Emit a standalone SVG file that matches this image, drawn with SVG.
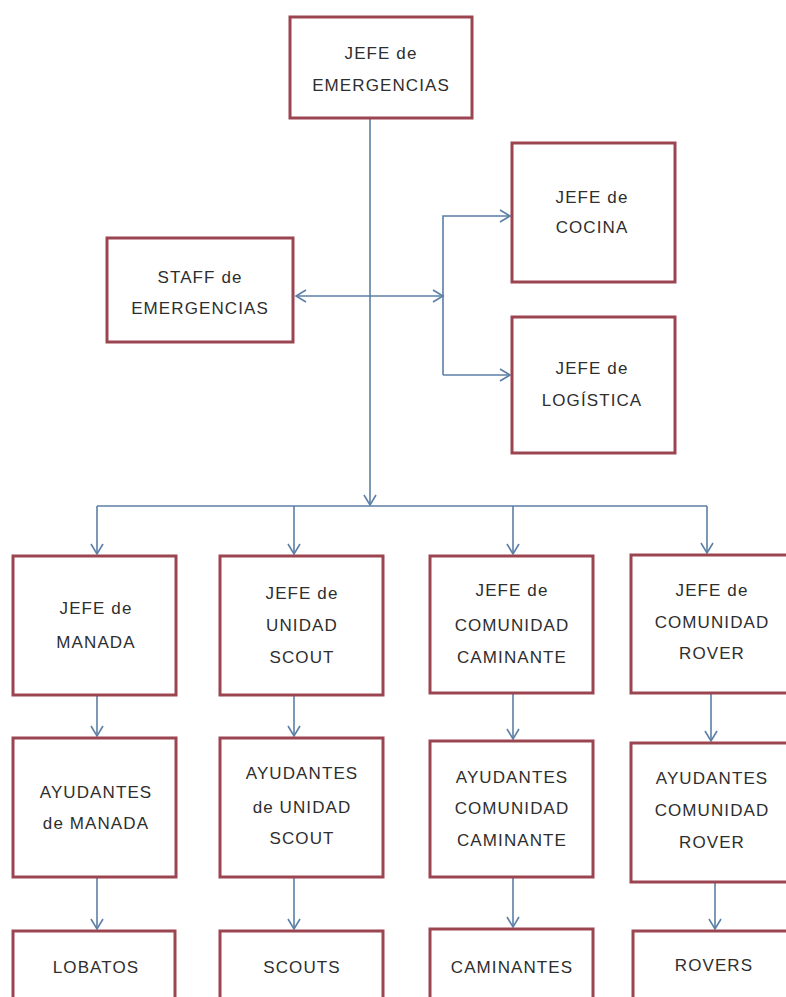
<svg xmlns="http://www.w3.org/2000/svg" width="786" height="997" viewBox="0 0 786 997">
<style>
.box{fill:#ffffff;stroke:#9b4550;stroke-width:3}
.lbl{font-family:"Liberation Sans",Arial,sans-serif;font-size:17px;fill:#2e2e2e;text-anchor:middle;letter-spacing:1.1px}
.con{fill:none;stroke:#5b7fa6;stroke-width:1.6}
</style>
<defs>
<marker id="ah" markerUnits="userSpaceOnUse" markerWidth="14" markerHeight="16" refX="11" refY="7" orient="auto-start-reverse" viewBox="0 0 14 14">
<path d="M1,1 L11,7 L1,13" fill="none" stroke="#5b7fa6" stroke-width="1.6"/>
</marker>
</defs>
<rect width="786" height="997" fill="#ffffff"/>
<g id="connectors">
<path class="con" d="M370,118 V505" marker-end="url(#ah)"/>
<path class="con" d="M97,506 H707"/>
<path class="con" d="M296,296 H443" marker-start="url(#ah)" marker-end="url(#ah)"/>
<path class="con" d="M443,375 V216 H510" marker-end="url(#ah)"/>
<path class="con" d="M443,375 H510" marker-end="url(#ah)"/>
<path class="con" d="M97,506 V554" marker-end="url(#ah)"/>
<path class="con" d="M294,506 V554" marker-end="url(#ah)"/>
<path class="con" d="M513,506 V554" marker-end="url(#ah)"/>
<path class="con" d="M707,506 V553" marker-end="url(#ah)"/>
<path class="con" d="M97,695 V736" marker-end="url(#ah)"/>
<path class="con" d="M294,695 V736" marker-end="url(#ah)"/>
<path class="con" d="M513,693 V739" marker-end="url(#ah)"/>
<path class="con" d="M711,693 V741" marker-end="url(#ah)"/>
<path class="con" d="M97,877 V929" marker-end="url(#ah)"/>
<path class="con" d="M294,877 V929" marker-end="url(#ah)"/>
<path class="con" d="M513,877 V927" marker-end="url(#ah)"/>
<path class="con" d="M715,882 V929" marker-end="url(#ah)"/>
</g>
<g id="jefe-emergencias"><rect class="box" x="290" y="17" width="182" height="101"/>
<text class="lbl" x="381" y="59">JEFE de</text><text class="lbl" x="381" y="91">EMERGENCIAS</text></g>
<g id="staff-emergencias"><rect class="box" x="107" y="238" width="186" height="104"/>
<text class="lbl" x="200" y="283">STAFF de</text><text class="lbl" x="200" y="314">EMERGENCIAS</text></g>
<g id="jefe-cocina"><rect class="box" x="512" y="143" width="163" height="139"/>
<text class="lbl" x="592" y="203">JEFE de</text><text class="lbl" x="592" y="233">COCINA</text></g>
<g id="jefe-logistica"><rect class="box" x="512" y="317" width="163" height="136"/>
<text class="lbl" x="592" y="374">JEFE de</text><text class="lbl" x="592" y="406">LOGÍSTICA</text></g>
<g id="jefe-manada"><rect class="box" x="13" y="556" width="163" height="139"/>
<text class="lbl" x="96" y="614">JEFE de</text><text class="lbl" x="96" y="648">MANADA</text></g>
<g id="jefe-unidad-scout"><rect class="box" x="220" y="556" width="163" height="139"/>
<text class="lbl" x="302" y="599">JEFE de</text><text class="lbl" x="302" y="631">UNIDAD</text><text class="lbl" x="302" y="663">SCOUT</text></g>
<g id="jefe-comunidad-caminante"><rect class="box" x="430" y="556" width="163" height="137"/>
<text class="lbl" x="512" y="596">JEFE de</text><text class="lbl" x="512" y="631">COMUNIDAD</text><text class="lbl" x="512" y="663">CAMINANTE</text></g>
<g id="jefe-comunidad-rover"><rect class="box" x="631" y="555" width="170" height="138"/>
<text class="lbl" x="712" y="596">JEFE de</text><text class="lbl" x="712" y="628">COMUNIDAD</text><text class="lbl" x="712" y="659">ROVER</text></g>
<g id="ayudantes-manada"><rect class="box" x="13" y="738" width="163" height="139"/>
<text class="lbl" x="96" y="798">AYUDANTES</text><text class="lbl" x="96" y="829">de MANADA</text></g>
<g id="ayudantes-unidad-scout"><rect class="box" x="220" y="738" width="163" height="139"/>
<text class="lbl" x="302" y="779">AYUDANTES</text><text class="lbl" x="302" y="813">de UNIDAD</text><text class="lbl" x="302" y="844">SCOUT</text></g>
<g id="ayudantes-comunidad-caminante"><rect class="box" x="430" y="741" width="163" height="136"/>
<text class="lbl" x="512" y="783">AYUDANTES</text><text class="lbl" x="512" y="814">COMUNIDAD</text><text class="lbl" x="512" y="846">CAMINANTE</text></g>
<g id="ayudantes-comunidad-rover"><rect class="box" x="631" y="743" width="170" height="139"/>
<text class="lbl" x="712" y="784">AYUDANTES</text><text class="lbl" x="712" y="816">COMUNIDAD</text><text class="lbl" x="712" y="848">ROVER</text></g>
<g id="lobatos"><rect class="box" x="13" y="931" width="162" height="90"/>
<text class="lbl" x="96" y="973">LOBATOS</text></g>
<g id="scouts"><rect class="box" x="220" y="931" width="163" height="90"/>
<text class="lbl" x="302" y="973">SCOUTS</text></g>
<g id="caminantes"><rect class="box" x="430" y="929" width="163" height="90"/>
<text class="lbl" x="512" y="973">CAMINANTES</text></g>
<g id="rovers"><rect class="box" x="633" y="931" width="170" height="90"/>
<text class="lbl" x="714" y="971">ROVERS</text></g>
</svg>
